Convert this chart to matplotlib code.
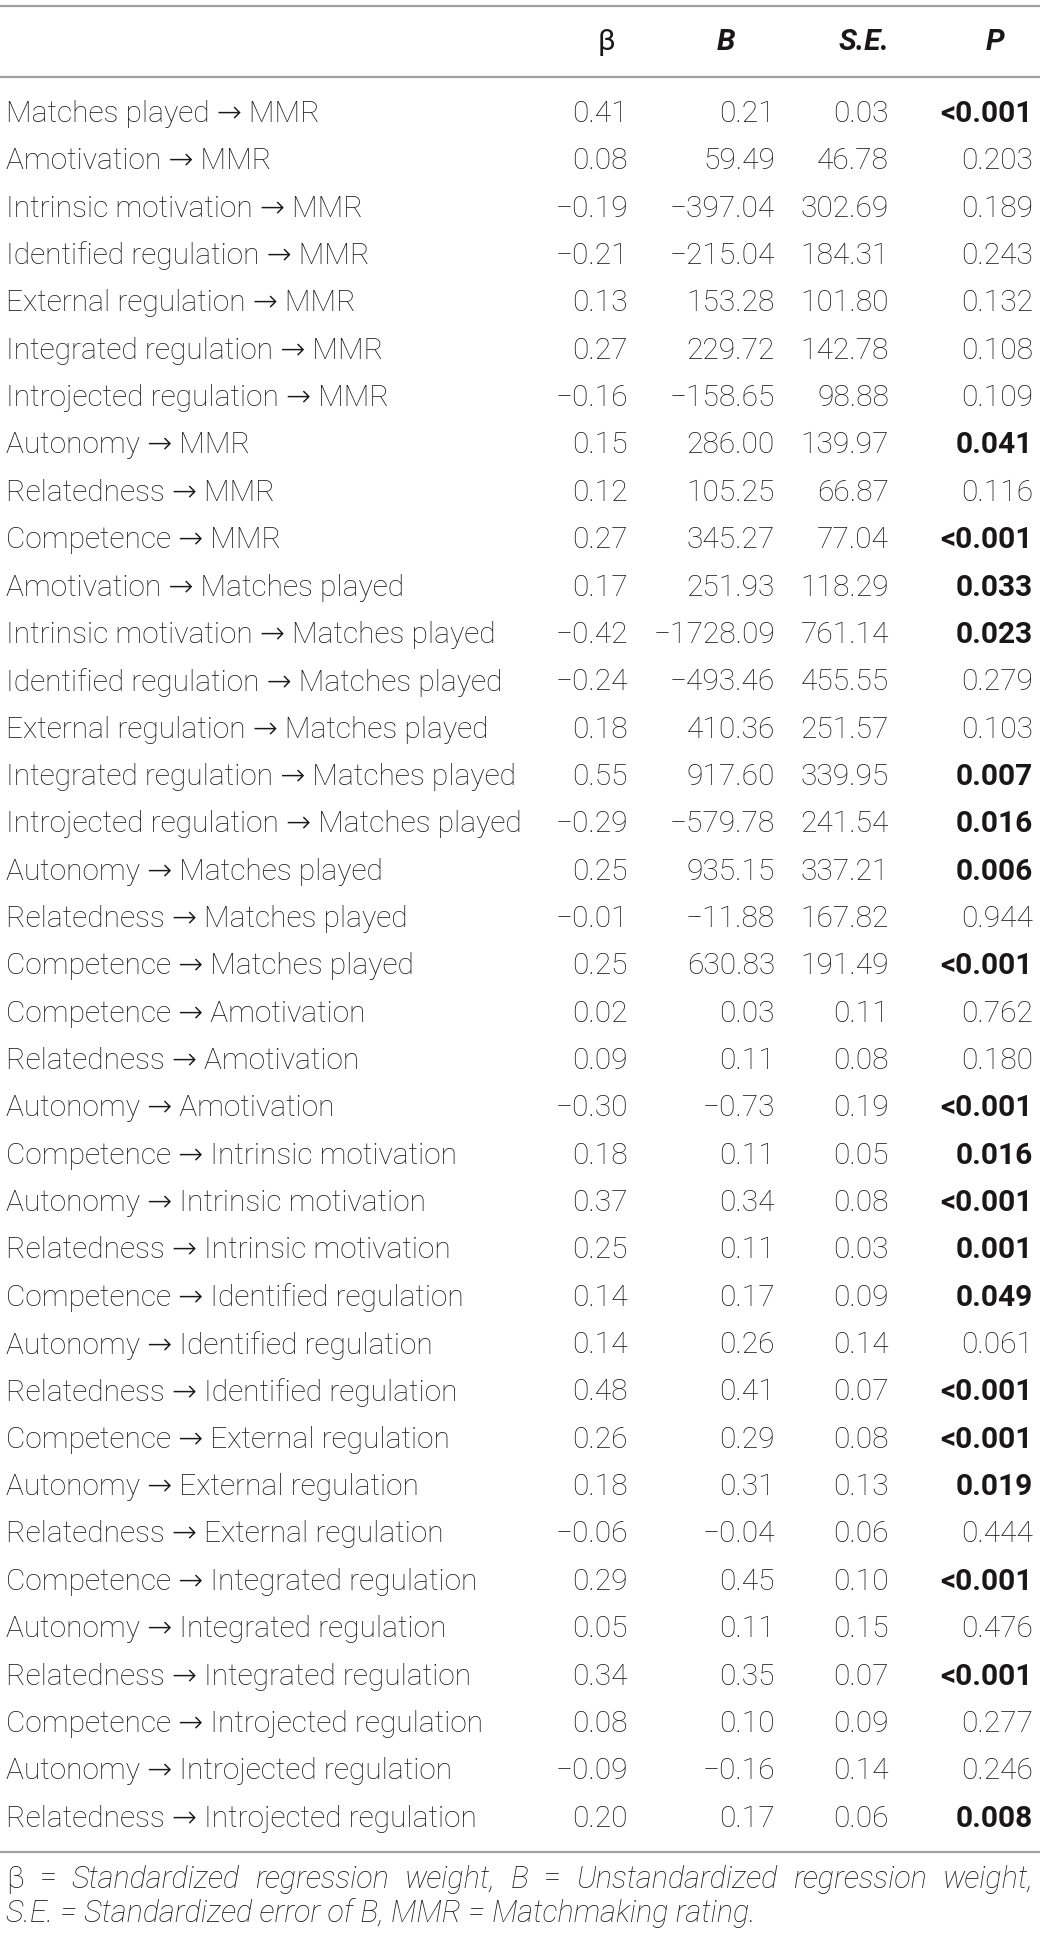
import matplotlib
matplotlib.use('Agg')
import matplotlib.pyplot as plt

plt.rcParams['font.family'] = ['Roboto', 'DejaVu Sans']

# Table data
paths = [
    "Matches played → MMR", "Amotivation → MMR", "Intrinsic motivation → MMR",
    "Identified regulation → MMR", "External regulation → MMR",
    "Integrated regulation → MMR", "Introjected regulation → MMR",
    "Autonomy → MMR", "Relatedness → MMR", "Competence → MMR",
    "Amotivation → Matches played", "Intrinsic motivation → Matches played",
    "Identified regulation → Matches played", "External regulation → Matches played",
    "Integrated regulation → Matches played", "Introjected regulation → Matches played",
    "Autonomy → Matches played", "Relatedness → Matches played",
    "Competence → Matches played", "Competence → Amotivation",
    "Relatedness → Amotivation", "Autonomy → Amotivation",
    "Competence → Intrinsic motivation", "Autonomy → Intrinsic motivation",
    "Relatedness → Intrinsic motivation", "Competence → Identified regulation",
    "Autonomy → Identified regulation", "Relatedness → Identified regulation",
    "Competence → External regulation", "Autonomy → External regulation",
    "Relatedness → External regulation", "Competence → Integrated regulation",
    "Autonomy → Integrated regulation", "Relatedness → Integrated regulation",
    "Competence → Introjected regulation", "Autonomy → Introjected regulation",
    "Relatedness → Introjected regulation",
]
beta = [0.41, 0.08, -0.19, -0.21, 0.13, 0.27, -0.16, 0.15, 0.12, 0.27,
        0.17, -0.42, -0.24, 0.18, 0.55, -0.29, 0.25, -0.01, 0.25, 0.02,
        0.09, -0.30, 0.18, 0.37, 0.25, 0.14, 0.14, 0.48, 0.26, 0.18,
        -0.06, 0.29, 0.05, 0.34, 0.08, -0.09, 0.20]
b_unstd = [0.21, 59.49, -397.04, -215.04, 153.28, 229.72, -158.65, 286.00, 105.25, 345.27,
           251.93, -1728.09, -493.46, 410.36, 917.60, -579.78, 935.15, -11.88, 630.83, 0.03,
           0.11, -0.73, 0.11, 0.34, 0.11, 0.17, 0.26, 0.41, 0.29, 0.31,
           -0.04, 0.45, 0.11, 0.35, 0.10, -0.16, 0.17]
se = [0.03, 46.78, 302.69, 184.31, 101.80, 142.78, 98.88, 139.97, 66.87, 77.04,
      118.29, 761.14, 455.55, 251.57, 339.95, 241.54, 337.21, 167.82, 191.49, 0.11,
      0.08, 0.19, 0.05, 0.08, 0.03, 0.09, 0.14, 0.07, 0.08, 0.13,
      0.06, 0.10, 0.15, 0.07, 0.09, 0.14, 0.06]
p_vals = ["<0.001", "0.203", "0.189", "0.243", "0.132", "0.108", "0.109", "0.041", "0.116", "<0.001",
          "0.033", "0.023", "0.279", "0.103", "0.007", "0.016", "0.006", "0.944", "<0.001", "0.762",
          "0.180", "<0.001", "0.016", "<0.001", "0.001", "0.049", "0.061", "<0.001", "<0.001", "0.019",
          "0.444", "<0.001", "0.476", "<0.001", "0.277", "0.246", "0.008"]
headers = ["β", "B", "S.E.", "P"]

W, H = 1040, 1937
fig = plt.figure(figsize=(W / 100, H / 100), dpi=100)
ax = fig.add_axes([0, 0, 1, 1])
ax.set_xlim(0, W)
ax.set_ylim(H, 0)
ax.axis('off')

fs = 21.5
txt_color = '#1a1718'
line_color = '#a0a0a0'

# horizontal rules
for y in [6, 77, 1852]:
    ax.plot([0, W], [y, y], color=line_color, lw=1.6, solid_capstyle='butt')

# header
header_x = [606, 726, 864, 995]
for hx, h in zip(header_x, headers):
    if h == "β":
        ax.text(hx, 42, h, ha='center', va='center', fontsize=fs, fontweight='normal',
                color=txt_color)
    else:
        ax.text(hx, 42, h, ha='center', va='center', fontsize=fs, fontweight='bold',
                fontstyle='italic', color=txt_color)

def fmt(v):
    s = f"{abs(v):.2f}"
    return ("−" + s) if v < 0 else s

col_right = [628, 775, 889, 1033]
row0, pitch = 114, 47.35
for i, name in enumerate(paths):
    y = row0 + i * pitch
    ax.text(6, y, name, ha='left', va='center', fontsize=fs, fontweight='light', color=txt_color)
    ax.text(col_right[0], y, fmt(beta[i]), ha='right', va='center', fontsize=fs,
            fontweight='light', color=txt_color)
    ax.text(col_right[1], y, fmt(b_unstd[i]), ha='right', va='center', fontsize=fs,
            fontweight='light', color=txt_color)
    ax.text(col_right[2], y, fmt(se[i]), ha='right', va='center', fontsize=fs,
            fontweight='light', color=txt_color)
    pv = float(p_vals[i].lstrip('<'))
    ax.text(col_right[3], y, p_vals[i], ha='right', va='center', fontsize=fs,
            fontweight='bold' if pv < 0.05 else 'light', color=txt_color)

# footnote, first line justified
fn_fs = 22
words = [("β", 'normal'), ("=", 'normal'), ("Standardized", 'italic'), ("regression", 'italic'),
         ("weight,", 'italic'), ("B", 'italic'), ("=", 'normal'), ("Unstandardized", 'italic'),
         ("regression", 'italic'), ("weight,", 'italic')]
renderer = fig.canvas.get_renderer()
objs = []
for w, st in words:
    t = ax.text(0, 1879, w, ha='left', va='center', fontsize=fn_fs, fontweight='light',
                fontstyle=st, color=txt_color)
    objs.append(t)
widths = []
for t in objs:
    bb = t.get_window_extent(renderer=renderer)
    widths.append(bb.width)
x_left, x_right = 6, 1033
gap = (x_right - x_left - sum(widths)) / (len(words) - 1)
x = x_left
for t, wd in zip(objs, widths):
    t.set_x(x)
    x += wd + gap

ax.text(6, 1913, "S.E. = Standardized error of B, MMR = Matchmaking rating.", ha='left',
        va='center', fontsize=fn_fs, fontweight='light', fontstyle='italic', color=txt_color)

fig.savefig('out.png', dpi=100)
